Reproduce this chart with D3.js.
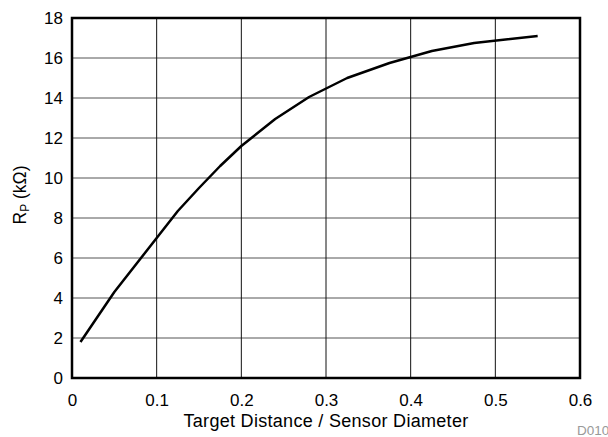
<!DOCTYPE html>
<html>
<head>
<meta charset="utf-8">
<script src="https://cdn.jsdelivr.net/npm/d3@7"></script>
<style>
  body { margin: 0; background: #fff; }
  svg { display: block; font-family: "Liberation Sans", Arial, sans-serif; }
</style>
</head>
<body>
<svg id="chart" width="608" height="437"></svg>
<script>
// values
const distance = [0.01, 0.05, 0.1, 0.125, 0.15, 0.175, 0.2, 0.24, 0.28, 0.325, 0.375, 0.425, 0.475, 0.55];
const resistance = [1.8, 4.3, 7.0, 8.35, 9.5, 10.6, 11.6, 12.95, 14.05, 15.0, 15.75, 16.35, 16.75, 17.1];
const xTicks = [0, 0.1, 0.2, 0.3, 0.4, 0.5, 0.6];
const yTicks = [0, 2, 4, 6, 8, 10, 12, 14, 16, 18];

const margin = { top: 18, right: 28, bottom: 59, left: 72 };
const width = 608 - margin.left - margin.right;
const height = 437 - margin.top - margin.bottom;

const svg = d3.select("#chart");
const g = svg.append("g").attr("transform", `translate(${margin.left},${margin.top})`);

const x = d3.scaleLinear().domain([0, 0.6]).range([0, width]);
const y = d3.scaleLinear().domain([0, 18]).range([height, 0]);

// grid
g.append("g")
  .selectAll("line")
  .data(yTicks)
  .enter()
  .append("line")
  .attr("x1", 0).attr("x2", width)
  .attr("y1", d => y(d)).attr("y2", d => y(d))
  .attr("stroke", "#555").attr("stroke-width", 1);

g.append("g")
  .selectAll("line")
  .data(xTicks)
  .enter()
  .append("line")
  .attr("y1", 0).attr("y2", height)
  .attr("x1", d => x(d)).attr("x2", d => x(d))
  .attr("stroke", "#111").attr("stroke-width", 1);

// axes (labels only)
const xAxis = g.append("g")
  .attr("transform", `translate(0,${height})`)
  .call(d3.axisBottom(x).tickValues(xTicks).tickSize(0).tickPadding(15.5).tickFormat(d3.format("")));
const yAxis = g.append("g")
  .call(d3.axisLeft(y).tickValues(yTicks).tickSize(0).tickPadding(9));
[xAxis, yAxis].forEach(a => {
  a.select(".domain").remove();
  a.selectAll("text").attr("font-size", 17).attr("fill", "#000")
    .attr("font-family", "Liberation Sans, Arial, sans-serif");
});

// frame
g.append("rect")
  .attr("width", width).attr("height", height)
  .attr("fill", "none").attr("stroke", "#000").attr("stroke-width", 2.5);

// curve
const line = d3.line()
  .x((d, i) => x(distance[i]))
  .y(d => y(d));

g.append("path")
  .datum(resistance)
  .attr("d", line)
  .attr("fill", "none")
  .attr("stroke", "#000")
  .attr("stroke-width", 2.5)
  .attr("stroke-linejoin", "round");

// titles
g.append("text")
  .attr("x", width / 2).attr("y", height + 48.7)
  .attr("text-anchor", "middle")
  .attr("font-size", 18)
  .attr("letter-spacing", 0.3)
  .text("Target Distance / Sensor Diameter");

const yl = g.append("text")
  .attr("transform", `translate(${-46},${height / 2 - 3}) rotate(-90)`)
  .attr("text-anchor", "middle")
  .attr("font-size", 17.5);
yl.append("tspan").text("R");
yl.append("tspan").attr("font-size", 12).attr("dy", 3).text("P");
yl.append("tspan").attr("dy", -3).text(" (kΩ)");

svg.append("text")
  .attr("x", 577).attr("y", 435)
  .attr("font-size", 13.5)
  .attr("fill", "#999")
  .text("D010");
</script>
</body>
</html>
